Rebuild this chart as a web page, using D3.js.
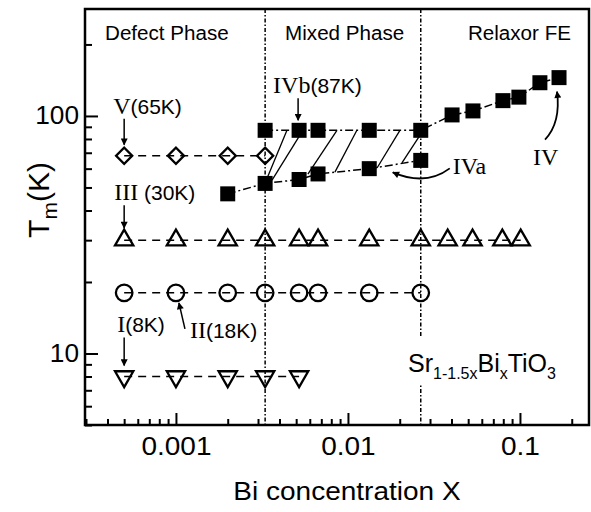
<!DOCTYPE html>
<html>
<head>
<meta charset="utf-8">
<script src="https://cdn.jsdelivr.net/npm/d3@7/dist/d3.min.js"></script>
<style>
body { margin: 0; background: #fff; }
svg { display: block; font-family: 'Liberation Sans', Arial, sans-serif; }
</style>
</head>
<body>
<div id="chart"></div>
<script>
const SERIF = "'Liberation Serif', 'Times New Roman', serif"

// Bi concentration values used for the open-symbol series
const xAll = [0.0005, 0.001, 0.002, 0.0033, 0.0052, 0.0067, 0.0133, 0.0265, 0.038, 0.053, 0.079, 0.101]

// V (65K) open diamonds
const vX = [0.0005, 0.001, 0.002, 0.0033]
const vT = [68, 68, 68, 68]

// III (30K) open triangles
const iiiX = xAll
const iiiT = [30, 30, 30, 30, 30, 30, 30, 30, 30, 30, 30, 30]

// II (18K) open circles
const iiX = [0.0005, 0.001, 0.002, 0.0033, 0.0052, 0.0067, 0.0133, 0.0265]
const iiT = [18, 18, 18, 18, 18, 18, 18, 18]

// I (8K) open down triangles
const iX = [0.0005, 0.001, 0.002, 0.0033, 0.0052]
const iT = [8, 8, 8, 8, 8]

// IVb (87K) continuing into IV, filled squares
const ivbX = [0.0033, 0.0052, 0.0067, 0.0133, 0.0265, 0.0403, 0.0533, 0.0796, 0.0986, 0.1306, 0.1687]
const ivbT = [87, 87, 87, 87, 87, 101, 105, 116, 120, 138, 145]

// IVa, filled squares
const ivaX = [0.002, 0.0033, 0.0052, 0.0067, 0.0133, 0.0265]
const ivaT = [47, 52, 54, 57, 60, 65]

// Hatching between IVa and IVb: [x bottom, T bottom, x top, T top]
const hatch = [
    [0.00329, 52, 0.00442, 87],
    [0.00362, 53.7, 0.00547, 87],
    [0.00585, 56.9, 0.00863, 87],
    [0.0084, 58, 0.01127, 87],
    [0.01476, 60.4, 0.02005, 87],
    [0.0206, 63.4, 0.02626, 83]
]

// Phase boundaries
const boundaries = [0.0033, 0.0265]
const phaseNames = ['Defect Phase', 'Mixed Phase', 'Relaxor FE']

const xMajor = [0.001, 0.01, 0.1]
const xMajorLabels = ['0.001', '0.01', '0.1']
const yMajor = [10, 100]
const yMajorLabels = ['10', '100']

const WIDTH = 591
const HEIGHT = 512
const margin = { left: 85, right: 2, top: 9, bottom: 87 }

// The scanned lettering is a bit wider than Arial
const STRETCH = 1.12

const svg = d3.select('#chart').append('svg')
    .attr('width', WIDTH)
    .attr('height', HEIGHT)

const xScale = d3.scaleLog().domain([2.96e-4, 0.252]).range([margin.left, WIDTH - margin.right])
const yScale = d3.scaleLog().domain([5, 282]).range([HEIGHT - margin.bottom, margin.top])

const x0 = margin.left, x1 = WIDTH - margin.right
const y0 = HEIGHT - margin.bottom, y1 = margin.top

function stretch(sel, k) {
    sel.each(function () {
        const w = this.getComputedTextLength()
        d3.select(this).attr('textLength', w * k).attr('lengthAdjust', 'spacingAndGlyphs')
    })
}

// Arrowhead
svg.append('defs').append('marker')
    .attr('id', 'arrow')
    .attr('markerUnits', 'userSpaceOnUse')
    .attr('viewBox', '0 0 10 10')
    .attr('markerWidth', 8)
    .attr('markerHeight', 7)
    .attr('refX', 9)
    .attr('refY', 5)
    .attr('orient', 'auto')
    .append('path')
    .attr('d', 'M0,0 L10,5 L0,10 z')
    .attr('fill', '#000')

// Axes with inward ticks
const minorX = xScale.ticks().filter(d => !xMajor.some(m => Math.abs(m - d) / m < 1e-6))
const minorY = yScale.ticks().filter(d => !yMajor.includes(d))

const xMinorAxis = d3.axisBottom(xScale).tickValues(minorX).tickSize(-6).tickFormat('')
const xMajorAxis = d3.axisBottom(xScale).tickValues(xMajor).tickSize(-12).tickPadding(12)
    .tickFormat((d, i) => xMajorLabels[i])
const yMinorAxis = d3.axisLeft(yScale).tickValues(minorY).tickSize(-7).tickFormat('')
const yMajorAxis = d3.axisLeft(yScale).tickValues(yMajor).tickSize(-13).tickPadding(6)
    .tickFormat((d, i) => yMajorLabels[i])

function styleAxis(g) {
    g.select('.domain').remove()
    g.selectAll('line').attr('stroke', '#000').attr('stroke-width', 2)
    g.selectAll('text').attr('font-family', "'Liberation Sans', Arial, sans-serif")
        .attr('font-size', 25).attr('fill', '#000')
}

svg.append('g').attr('transform', `translate(0,${y0})`).call(xMinorAxis).call(styleAxis)
svg.append('g').attr('transform', `translate(0,${y0})`).call(xMajorAxis).call(styleAxis)
    .selectAll('text').call(stretch, STRETCH)
svg.append('g').attr('transform', `translate(${x0},0)`).call(yMinorAxis).call(styleAxis)
svg.append('g').attr('transform', `translate(${x0},0)`).call(yMajorAxis).call(styleAxis)
    .selectAll('text').call(stretch, 1.05)

// Phase boundary lines
svg.selectAll('.boundary')
    .data(boundaries)
    .enter()
    .append('line')
    .attr('class', 'boundary')
    .attr('x1', d => xScale(d)).attr('x2', d => xScale(d))
    .attr('y1', y1).attr('y2', y0)
    .attr('stroke', '#000')
    .attr('stroke-width', 1.5)
    .attr('stroke-dasharray', '4,2,1.5,2')

// Hatching
svg.selectAll('.hatch')
    .data(hatch)
    .enter()
    .append('line')
    .attr('x1', d => xScale(d[0])).attr('y1', d => yScale(d[1]))
    .attr('x2', d => xScale(d[2])).attr('y2', d => yScale(d[3]))
    .attr('stroke', '#000')
    .attr('stroke-width', 1.3)

const line = d3.line().x(d => xScale(d[0])).y(d => yScale(d[1]))

const series = [
    { x: vX, t: vT, symbol: d3.symbolSquare, size: 130, rotate: 45, filled: false, dash: '8,6' },
    { x: iiiX, t: iiiT, symbol: d3.symbolTriangle, size: 145, rotate: 0, filled: false, dash: '8,6' },
    { x: iiX, t: iiT, symbol: d3.symbolCircle, size: 215, rotate: 0, filled: false, dash: '8,6' },
    { x: iX, t: iT, symbol: d3.symbolTriangle, size: 145, rotate: 180, filled: false, dash: '8,6' },
    { x: ivbX, t: ivbT, symbol: d3.symbolSquare, size: 225, rotate: 0, filled: true, dash: '8,3,2,3' },
    { x: ivaX, t: ivaT, symbol: d3.symbolSquare, size: 225, rotate: 0, filled: true, dash: '8,3,2,3' }
]

series.forEach(s => {
    const pts = s.x.map((x, i) => [x, s.t[i]])
    svg.append('path')
        .attr('d', line(pts))
        .attr('fill', 'none')
        .attr('stroke', '#000')
        .attr('stroke-width', 1.5)
        .attr('stroke-dasharray', s.dash)
    svg.append('g').selectAll('path')
        .data(pts)
        .enter()
        .append('path')
        .attr('transform', d => `translate(${xScale(d[0])},${yScale(d[1])}) rotate(${s.rotate})`)
        .attr('d', d3.symbol().type(s.symbol).size(s.size))
        .attr('fill', s.filled ? '#000' : 'none')
        .attr('stroke', '#000')
        .attr('stroke-width', s.filled ? 0 : 2.3)
})

// Phase names
const phaseX = [x0, xScale(boundaries[0]), xScale(boundaries[1])]
phaseNames.forEach((name, i) => {
    svg.append('text')
        .attr('x', i < 2 ? phaseX[i] + 20 : x1 - 18)
        .attr('y', 40)
        .attr('text-anchor', i < 2 ? 'start' : 'end')
        .attr('font-size', 20)
        .text(name)
        .call(stretch, 1.03)
})

// Roman-numeral labels
function label(x, y, roman, paren) {
    const t = svg.append('text').attr('x', x).attr('y', y)
    t.append('tspan').attr('font-family', SERIF).attr('font-size', 24).text(roman)
    if (paren) t.append('tspan').attr('font-size', 21).text(paren)
}

function arrow(xa, ya, xb, yb) {
    svg.append('line')
        .attr('x1', xa).attr('y1', ya).attr('x2', xb).attr('y2', yb)
        .attr('stroke', '#000').attr('stroke-width', 1.5)
        .attr('marker-end', 'url(#arrow)')
}

function curvedArrow(xa, ya, cx, cy, xb, yb) {
    const p = d3.path()
    p.moveTo(xa, ya)
    p.quadraticCurveTo(cx, cy, xb, yb)
    svg.append('path')
        .attr('d', p.toString())
        .attr('fill', 'none')
        .attr('stroke', '#000').attr('stroke-width', 1.8)
        .attr('marker-end', 'url(#arrow)')
}

const px = v => xScale(v)
const py = v => yScale(v)

label(px(vX[0]) - 11, py(vT[0]) - 42, 'V', '(65K)')
arrow(px(vX[0]), py(vT[0]) - 37, px(vX[0]), py(vT[0]) - 11)

label(px(iiiX[0]) - 10, py(iiiT[0]) - 40, 'III', ' (30K)')
arrow(px(iiiX[0]), py(iiiT[0]) - 35, px(iiiX[0]), py(iiiT[0]) - 12)

label(px(iX[0]) - 7, py(iT[0]) - 45, 'I', '(8K)')
arrow(px(iX[0]), py(iT[0]) - 39, px(iX[0]), py(iT[0]) - 11)

label(px(iiX[1]) + 14, py(iiT[1]) + 45, 'II', '(18K)')
arrow(px(iiX[1]) + 9, py(iiT[1]) + 36, px(iiX[1]) + 3, py(iiT[1]) + 10)

label(px(ivbX[1]) - 26, py(ivbT[1]) - 37, 'IVb', '(87K)')
arrow(px(ivbX[1]) - 1, py(ivbT[1]) - 32, px(ivbX[1]) - 1, py(ivbT[1]) - 10)

const ivaEnd = ivaX.length - 1
label(px(ivaX[ivaEnd]) + 32, py(ivaT[ivaEnd]) + 14, 'IVa')
curvedArrow(px(ivaX[ivaEnd]) + 29, py(ivaT[ivaEnd]) + 8,
    px(ivaX[ivaEnd]) + 5, py(ivaT[ivaEnd]) + 26,
    px(ivaX[ivaEnd]) - 28, py(ivaT[ivaEnd]) + 12)

const ivEnd = ivbX.length - 1
label(px(ivbX[ivEnd]) - 26, py(ivbT[ivEnd]) + 87, 'IV')
curvedArrow(px(ivbX[ivEnd]) - 14, py(ivbT[ivEnd]) + 62,
    px(ivbX[ivEnd]) + 2, py(ivbT[ivEnd]) + 45,
    px(ivbX[ivEnd]) - 2, py(ivbT[ivEnd]) + 14)

// Compound formula, with a white backing so the boundary line breaks around it
const formula = svg.append('g')
formula.append('rect')
    .attr('x', px(boundaries[1]) - 8).attr('y', 337)
    .attr('width', 16).attr('height', 48)
    .attr('fill', '#fff')
const ft = formula.append('text').attr('x', 408).attr('y', 372).attr('font-size', 25)
ft.append('tspan').text('Sr')
ft.append('tspan').attr('font-size', 16).attr('dy', 7).text('1-1.5x')
ft.append('tspan').attr('dy', -7).text('Bi')
ft.append('tspan').attr('font-size', 16).attr('dy', 7).text('x')
ft.append('tspan').attr('dy', -7).text('TiO')
ft.append('tspan').attr('font-size', 16).attr('dy', 7).text('3')

// Frame
svg.append('rect')
    .attr('x', x0).attr('y', y1)
    .attr('width', x1 - x0).attr('height', y0 - y1)
    .attr('fill', 'none')
    .attr('stroke', '#000')
    .attr('stroke-width', 2.5)

// Axis titles
svg.append('text')
    .attr('x', (x0 + x1) / 2 + 10)
    .attr('y', 500)
    .attr('text-anchor', 'middle')
    .attr('font-size', 25)
    .text('Bi concentration X')
    .call(stretch, STRETCH)

const yt = svg.append('text')
    .attr('transform', 'translate(49,200) rotate(-90)')
    .attr('text-anchor', 'middle')
    .attr('font-size', 30)
yt.append('tspan').text('T')
yt.append('tspan').attr('font-size', 21).attr('dy', 8).text('m')
yt.append('tspan').attr('dy', -8).text('(K)')
</script>
</body>
</html>
